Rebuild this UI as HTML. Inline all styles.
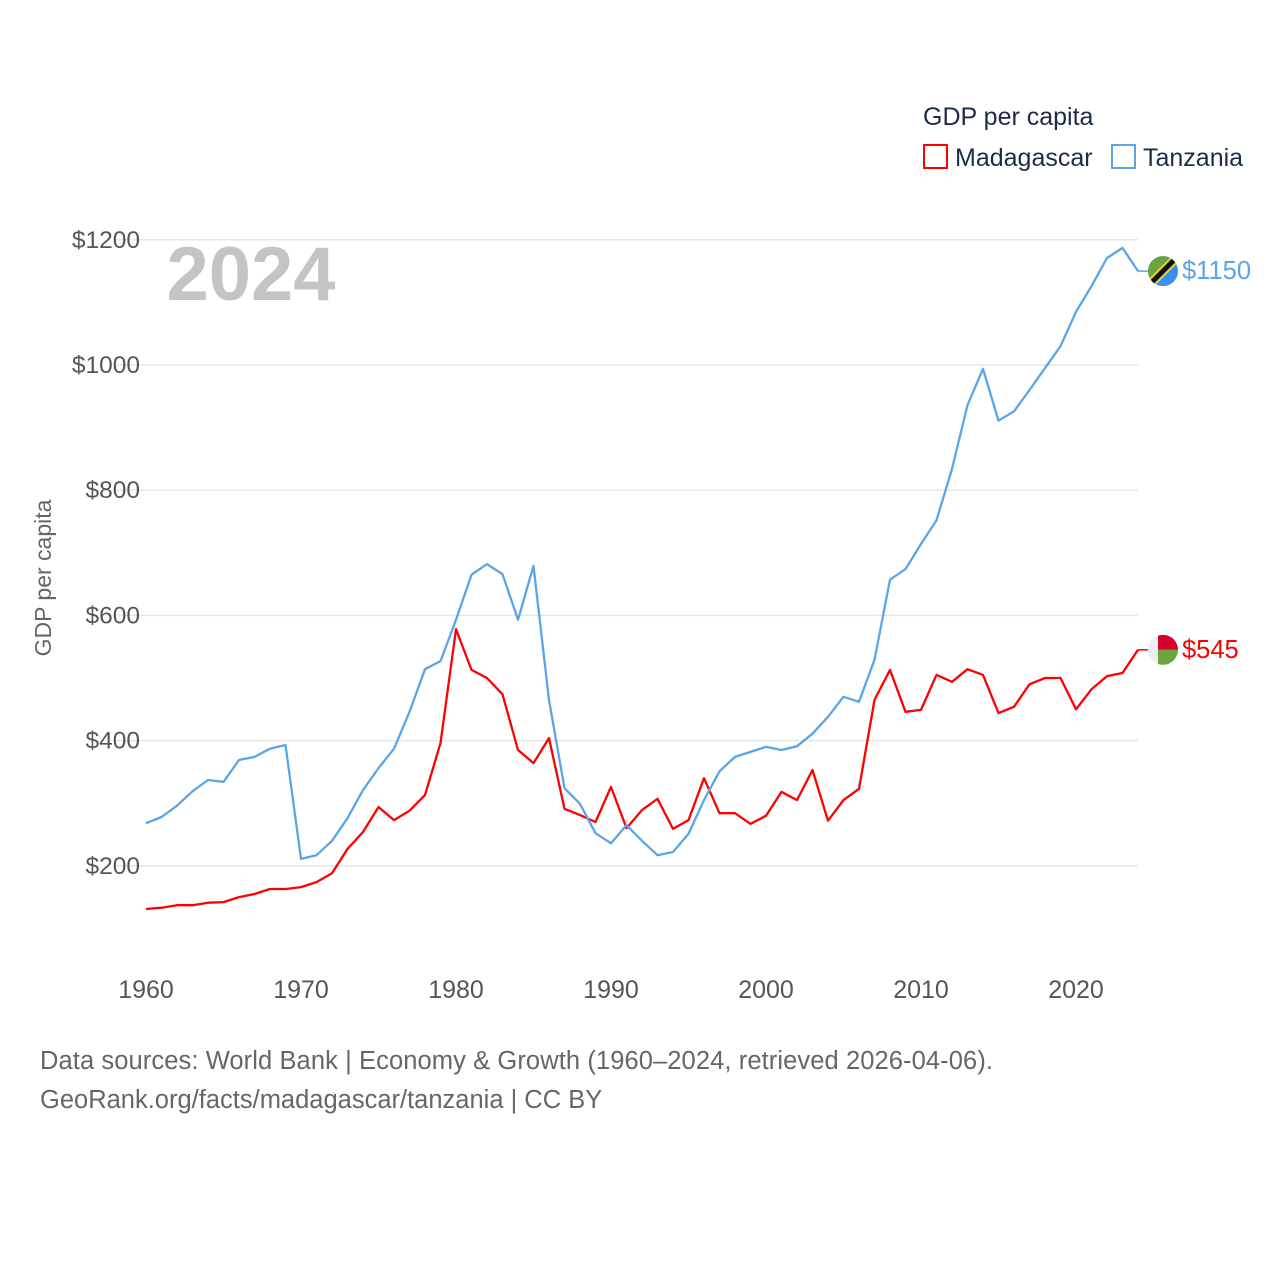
<!DOCTYPE html>
<html><head><meta charset="utf-8"><style>
html,body{margin:0;padding:0;background:#fff;}
svg{display:block;font-family:"Liberation Sans",sans-serif;}
</style></head><body>
<svg id="chart" width="1280" height="1280" viewBox="0 0 1280 1280">
<g id="grid"></g>
<g id="yticks"></g>
<g id="xticks"></g>
<text x="251" y="300" font-size="76" font-weight="bold" fill="#c4c4c4" text-anchor="middle">2024</text>
<text transform="translate(51,578) rotate(-90)" font-size="23" fill="#666" text-anchor="middle">GDP per capita</text>
<g id="series"></g>
<g>
<text x="923" y="125" font-size="25" fill="#1d2b4a">GDP per capita</text>
<g>
<rect x="924" y="145" width="23" height="23" fill="none" stroke="#ff0000" stroke-width="2"/>
<text x="955" y="166" font-size="25" fill="#1d2b4a">Madagascar</text></g>
<g>
<rect x="1112" y="145" width="23" height="23" fill="none" stroke="#5aa5e8" stroke-width="2"/>
<text x="1143" y="166" font-size="25" fill="#1d2b4a">Tanzania</text></g>
</g>
<text x="40" y="1069" font-size="25.5" fill="#666" textLength="953">Data sources: World Bank | Economy &amp; Growth (1960–2024, retrieved 2026-04-06).</text>
<text x="40" y="1108" font-size="25.5" fill="#666">GeoRank.org/facts/madagascar/tanzania | CC BY</text>
</svg>
<script>
const years = [];
for (let y = 1960; y <= 2024; y++) years.push(y);
const tanzania = [268,278,296,319,337,334,369,374,387,393,211,217,240,276,321,356,387,446,514,527,593,665,682,666,593,679,465,324,299,252,236,265,240,217,222,251,305,351,374,382,390,385,391,411,438,470,462,529,657,674,714,752,834,936,994,911,926,960,995,1030,1085,1126,1171,1187,1150];
const madagascar = [131,133,137,137,141,142,150,155,163,163,166,174,188,227,254,294,273,288,313,396,578,513,500,474,385,364,404,291,281,270,326,260,289,307,259,273,340,284,284,267,280,318,305,353,272,305,323,465,513,446,449,505,494,514,505,444,454,490,500,500,450,482,503,508,545];
const yTicks = [200,400,600,800,1000,1200];
const yTickLabels = ["$200","$400","$600","$800","$1000","$1200"];
const xTicks = [1960,1970,1980,1990,2000,2010,2020];
const xTickLabels = ["1960","1970","1980","1990","2000","2010","2020"];
const endLabels = ["$545","$1150"];

const NS = "http://www.w3.org/2000/svg";
const X0 = 146, X1 = 1138, Y0 = 991, PX = 125.2/200;
const xs = y => X0 + (y - 1960) * (X1 - X0) / 64;
const ys = v => Y0 - v * PX;
function mk(tag, attrs, parent) {
  const e = document.createElementNS(NS, tag);
  for (const k in attrs) e.setAttribute(k, attrs[k]);
  parent.appendChild(e);
  return e;
}
const grid = document.getElementById('grid');
const yt = document.getElementById('yticks');
yTicks.forEach((v, i) => {
  const l = mk('line', {x1:115, x2:X1, y1:ys(v), y2:ys(v), stroke:'#e6e6e6', 'stroke-width':1.5}, grid);
  
  
  const t = mk('text', {x:140, y:ys(v)+8, 'font-size':24.5, fill:'#555', 'text-anchor':'end'}, yt);
  t.textContent = yTickLabels[i];
  
  
});
const xt = document.getElementById('xticks');
xTicks.forEach((y, i) => {
  const t = mk('text', {x:xs(y), y:998, 'font-size':25, fill:'#555', 'text-anchor':'middle'}, xt);
  t.textContent = xTickLabels[i];
  
  
});
const ser = document.getElementById('series');
function line(data, color, name) {
  const d = data.map((v, i) => (i ? 'L' : 'M') + xs(years[i]).toFixed(1) + ',' + ys(v).toFixed(1)).join('');
  const p = mk('path', {d:d, fill:'none', stroke:color, 'stroke-width':2.3, 'stroke-linejoin':'round'}, ser);
  
  
  const last = data[data.length-1], yy = ys(last);
  const dash = mk('line', {x1:X1, x2:X1+10, y1:yy, y2:yy, stroke:color, 'stroke-width':1.5}, ser);
  
  
  return yy;
}
const ym = line(madagascar, '#ff0000', 'madagascar-line');
const yz = line(tanzania, '#5aa5e8', 'tanzania-line');
const fm = mk('g', {}, ser);


const cm = mk('clipPath', {id:'cm'}, fm);
mk('circle', {cx:1163, cy:ym, r:15}, cm);
const gm = mk('g', {'clip-path':'url(#cm)'}, fm);
mk('rect', {x:1148, y:ym-15, width:10, height:30, fill:'#eeeeee'}, gm);
mk('rect', {x:1158, y:ym-15, width:20, height:15, fill:'#d5002b'}, gm);
mk('rect', {x:1158, y:ym, width:20, height:15, fill:'#6aa33f'}, gm);
const fz = mk('g', {}, ser);


const cz = mk('clipPath', {id:'cz'}, fz);
mk('circle', {cx:1163, cy:yz, r:15}, cz);
const gz = mk('g', {'clip-path':'url(#cz)'}, fz);
mk('rect', {x:1148, y:yz-15, width:30, height:30, fill:'#3a8ff0'}, gz);
mk('polygon', {points:`1148,${yz-15} 1178,${yz-15} 1148,${yz+15}`, fill:'#6aa33f'}, gz);
mk('line', {x1:1148, y1:yz+15, x2:1178, y2:yz-15, stroke:'#f2d21b', 'stroke-width':9}, gz);
mk('line', {x1:1148, y1:yz+15, x2:1178, y2:yz-15, stroke:'#111', 'stroke-width':5}, gz);
const lm = mk('text', {x:1182, y:ym+8, 'font-size':25.5, fill:'#ff0000'}, ser);
lm.textContent = endLabels[0];


const lz = mk('text', {x:1182, y:yz+8, 'font-size':25.5, fill:'#5aa5e8'}, ser);
lz.textContent = endLabels[1];


</script>
</body></html>
